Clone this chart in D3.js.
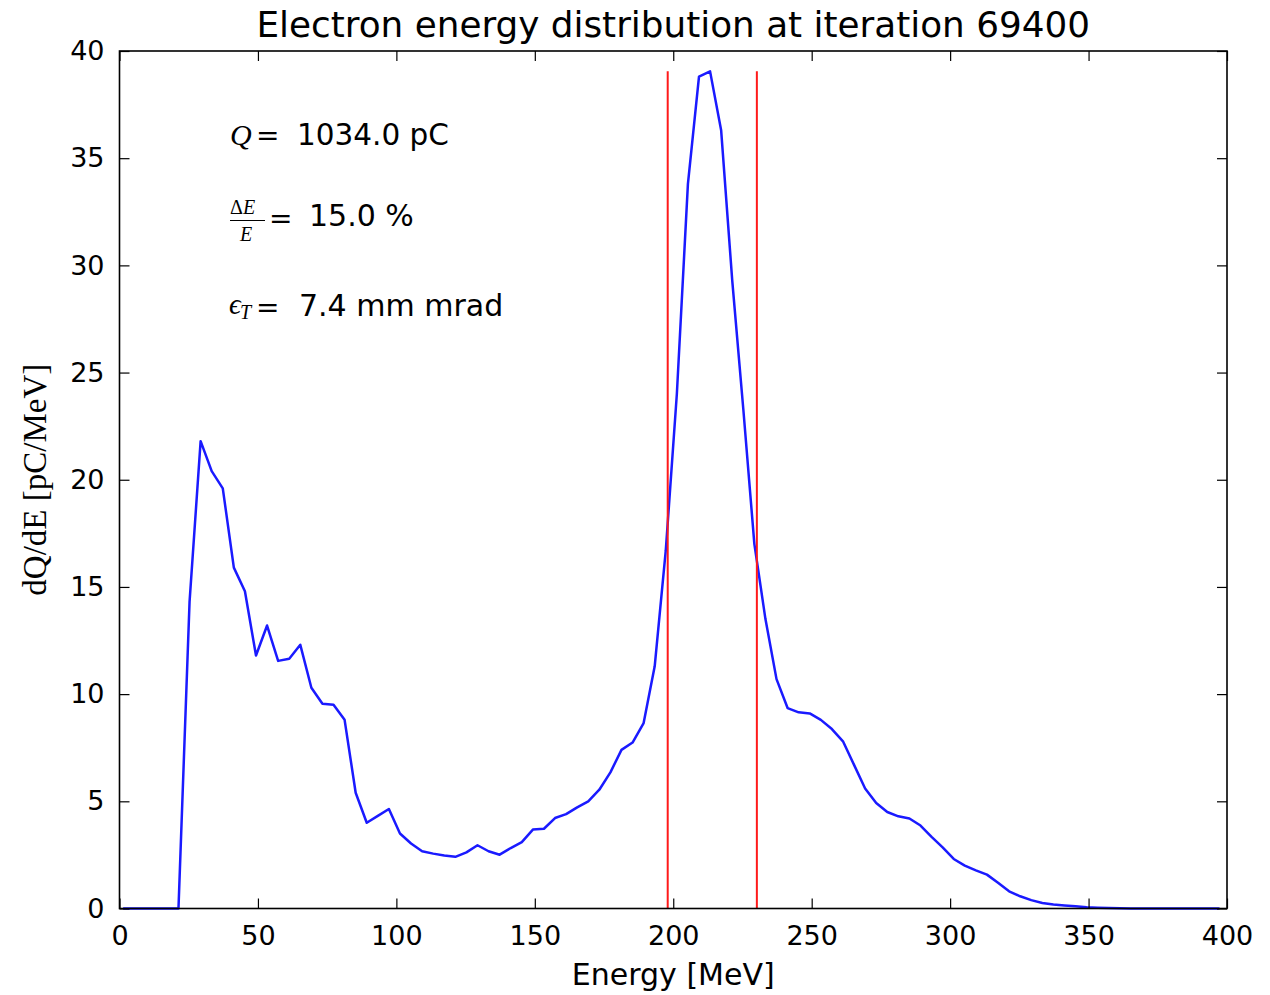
<!DOCTYPE html>
<html>
<head>
<meta charset="utf-8">
<script src="https://cdn.jsdelivr.net/npm/d3@7"></script>
<style>
  body { margin: 0; background: #fff; }
  .tick text { font-family: "DejaVu Sans", sans-serif; font-size: 27px; fill: #000; }
  .tick line { stroke: #000; stroke-width: 1.2; }
</style>
</head>
<body>
<div id="chart"></div>
<script>
// bin centres of the energy histogram [MeV]
const energy = [
  1.3, 5.3, 9.3, 13.3, 17.3, 21.3, 25.3, 29.3, 33.3, 37.3,
  41.3, 45.3, 49.3, 53.3, 57.3, 61.3, 65.3, 69.3, 73.3, 77.3,
  81.3, 85.3, 89.3, 93.3, 97.3, 101.3, 105.3, 109.3, 113.3, 117.3,
  121.3, 125.3, 129.3, 133.3, 137.3, 141.3, 145.3, 149.3, 153.3, 157.3,
  161.3, 165.3, 169.3, 173.3, 177.3, 181.3, 185.3, 189.3, 193.3, 197.3,
  201.3, 205.3, 209.3, 213.3, 217.3, 221.3, 225.3, 229.3, 233.3, 237.3,
  241.3, 245.3, 249.3, 253.3, 257.3, 261.3, 265.3, 269.3, 273.3, 277.3,
  281.3, 285.3, 289.3, 293.3, 297.3, 301.3, 305.3, 309.3, 313.3, 317.3,
  321.3, 325.3, 329.3, 333.3, 337.3, 341.3, 345.3, 349.3, 353.3, 357.3,
  361.3, 365.3, 369.3, 373.3, 377.3, 381.3, 385.3, 389.3, 393.3, 397.3
];
// dQ/dE [pC/MeV]
const dQdE = [
  0, 0, 0, 0, 0, 0, 14.3, 21.8, 20.4, 19.6,
  15.9, 14.8, 11.8, 13.2, 11.55, 11.65, 12.3, 10.3, 9.55, 9.5,
  8.8, 5.4, 4.0, 4.32, 4.64, 3.5, 3.03, 2.67, 2.56, 2.47,
  2.41, 2.62, 2.95, 2.67, 2.51, 2.82, 3.1, 3.68, 3.72, 4.22,
  4.4, 4.72, 5.0, 5.54, 6.35, 7.4, 7.74, 8.65, 11.3, 16.7,
  24.0, 33.8, 38.8, 39.05, 36.3, 29.3, 23.3, 17.0, 13.5, 10.7,
  9.35, 9.15, 9.1, 8.8, 8.37, 7.8, 6.7, 5.6, 4.92, 4.5,
  4.3, 4.2, 3.87, 3.34, 2.85, 2.31, 2.0, 1.78, 1.58, 1.2,
  0.8, 0.57, 0.39, 0.26, 0.19, 0.14, 0.1, 0.06, 0.04, 0.02,
  0.01, 0, 0, 0, 0, 0, 0, 0, 0, 0
];
// FWHM markers [MeV] and their height
const fwhmLines = [198.0, 230.2];
const fwhmTop = 39.05;

const xTicks = [0, 50, 100, 150, 200, 250, 300, 350, 400];
const yTicks = [0, 5, 10, 15, 20, 25, 30, 35, 40];

const titleText = "Electron energy distribution at iteration 69400";
const xLabel = "Energy [MeV]";
const yLabel = "dQ/dE [pC/MeV]";
const chargeText = "1034.0 pC";
const spreadText = "15.0 %";
const emittanceText = "7.4 mm mrad";

class EnergySpectrum {
  constructor(opts) {
    this.container = opts.container;
    this.width = 1270;
    this.height = 995;
    this.margin = { top: 51, right: 43, bottom: 86.5, left: 119.5 };
    this.drawChart();
    this.addAxes();
    this.addLabels();
    this.addNotes();
  }
  drawChart() {
    this.plotW = this.width - this.margin.left - this.margin.right;
    this.plotH = this.height - this.margin.top - this.margin.bottom;
    this.svg = d3
      .select(this.container)
      .append("svg")
      .attr("width", this.width)
      .attr("height", this.height);
    this.g = this.svg
      .append("g")
      .attr("transform", `translate(${this.margin.left},${this.margin.top})`);

    this.xScale = d3.scaleLinear().domain([0, 400]).range([0, this.plotW]);
    this.yScale = d3.scaleLinear().domain([0, 40]).range([this.plotH, 0]);

    const data = energy.map((e, i) => ({ e: e, v: dQdE[i] }));

    // spectrum line
    const line = d3
      .line()
      .x((d) => this.xScale(d.e))
      .y((d) => this.yScale(d.v));
    this.g
      .append("path")
      .datum(data)
      .attr("d", line)
      .attr("fill", "none")
      .attr("stroke", "#1a1aff")
      .attr("stroke-width", 2.5)
      .attr("stroke-linejoin", "round");

    // red FWHM lines
    this.g
      .selectAll("line.fwhm")
      .data(fwhmLines)
      .enter()
      .append("line")
      .attr("class", "fwhm")
      .attr("x1", (d) => this.xScale(d))
      .attr("x2", (d) => this.xScale(d))
      .attr("y1", this.yScale(0))
      .attr("y2", this.yScale(fwhmTop))
      .attr("stroke", "#ff1a1a")
      .attr("stroke-width", 2);
  }
  addAxes() {
    const tick = 10;
    // bottom with labels, ticks pointing inward
    this.g
      .append("g")
      .attr("transform", `translate(0,${this.plotH})`)
      .call(d3.axisBottom(this.xScale).tickValues(xTicks).tickSize(-tick).tickPadding(17))
      .call((g) => g.select(".domain").remove());
    this.g
      .append("g")
      .call(d3.axisTop(this.xScale).tickValues(xTicks).tickSize(-tick).tickFormat(""))
      .call((g) => g.select(".domain").remove());
    this.g
      .append("g")
      .call(d3.axisLeft(this.yScale).tickValues(yTicks).tickSize(-tick).tickPadding(15))
      .call((g) => g.select(".domain").remove());
    this.g
      .append("g")
      .attr("transform", `translate(${this.plotW},0)`)
      .call(d3.axisRight(this.yScale).tickValues(yTicks).tickSize(-tick).tickFormat(""))
      .call((g) => g.select(".domain").remove());

    // frame
    this.g
      .append("rect")
      .attr("width", this.plotW)
      .attr("height", this.plotH)
      .attr("fill", "none")
      .attr("stroke", "#000")
      .attr("stroke-width", 1.6);
  }
  addLabels() {
    const cx = this.margin.left + this.plotW / 2;
    this.svg
      .append("text")
      .text(titleText)
      .attr("x", cx)
      .attr("y", 37)
      .attr("text-anchor", "middle")
      .attr("font-family", "DejaVu Sans, sans-serif")
      .attr("font-size", "35.8px");
    this.svg
      .append("text")
      .text(xLabel)
      .attr("x", cx)
      .attr("y", 985)
      .attr("text-anchor", "middle")
      .attr("font-family", "DejaVu Sans, sans-serif")
      .attr("font-size", "30px");
    this.svg
      .append("text")
      .text(yLabel)
      .attr("transform", `translate(46,${this.margin.top + this.plotH / 2}) rotate(-90)`)
      .attr("text-anchor", "middle")
      .attr("font-family", "Liberation Serif, serif")
      .attr("font-size", "33px");
  }
  addNotes() {
    const serif = "Liberation Serif, DejaVu Serif, serif";
    const eqFont = "DejaVu Serif, serif";
    const sans = "DejaVu Sans, sans-serif";
    const notes = this.svg.append("g").attr("class", "notes");

    // Q = ...
    notes.append("text").text("Q").attr("x", 230).attr("y", 145)
      .attr("font-family", serif).attr("font-style", "italic").attr("font-size", "30px");
    notes.append("text").text("=").attr("x", 256).attr("y", 145)
      .attr("font-family", eqFont).attr("font-size", "28px");
    notes.append("text").text(chargeText).attr("x", 297).attr("y", 145)
      .attr("font-family", sans).attr("font-size", "29.5px");

    // dE/E = ...
    const num = notes.append("text").attr("x", 230).attr("y", 214)
      .attr("font-family", serif).attr("font-size", "20px");
    num.append("tspan").text("Δ");
    num.append("tspan").text("E").attr("font-style", "italic");
    notes.append("line").attr("x1", 230).attr("x2", 265).attr("y1", 220.5).attr("y2", 220.5)
      .attr("stroke", "#000").attr("stroke-width", 1.2);
    notes.append("text").text("E").attr("x", 240).attr("y", 241)
      .attr("font-family", serif).attr("font-style", "italic").attr("font-size", "20px");
    notes.append("text").text("=").attr("x", 269).attr("y", 228)
      .attr("font-family", eqFont).attr("font-size", "28px");
    notes.append("text").text(spreadText).attr("x", 309).attr("y", 226)
      .attr("font-family", sans).attr("font-size", "30px");

    // eps_T = ...
    notes.append("text").text("ϵ").attr("x", 229).attr("y", 314)
      .attr("font-family", serif).attr("font-style", "italic").attr("font-size", "29px");
    notes.append("text").text("T").attr("x", 240).attr("y", 319)
      .attr("font-family", serif).attr("font-style", "italic").attr("font-size", "20px");
    notes.append("text").text("=").attr("x", 256).attr("y", 317)
      .attr("font-family", eqFont).attr("font-size", "28px");
    notes.append("text").text(emittanceText).attr("x", 299).attr("y", 316)
      .attr("font-family", sans).attr("font-size", "30px");
  }
}

new EnergySpectrum({ container: "#chart" });
</script>
</body>
</html>
